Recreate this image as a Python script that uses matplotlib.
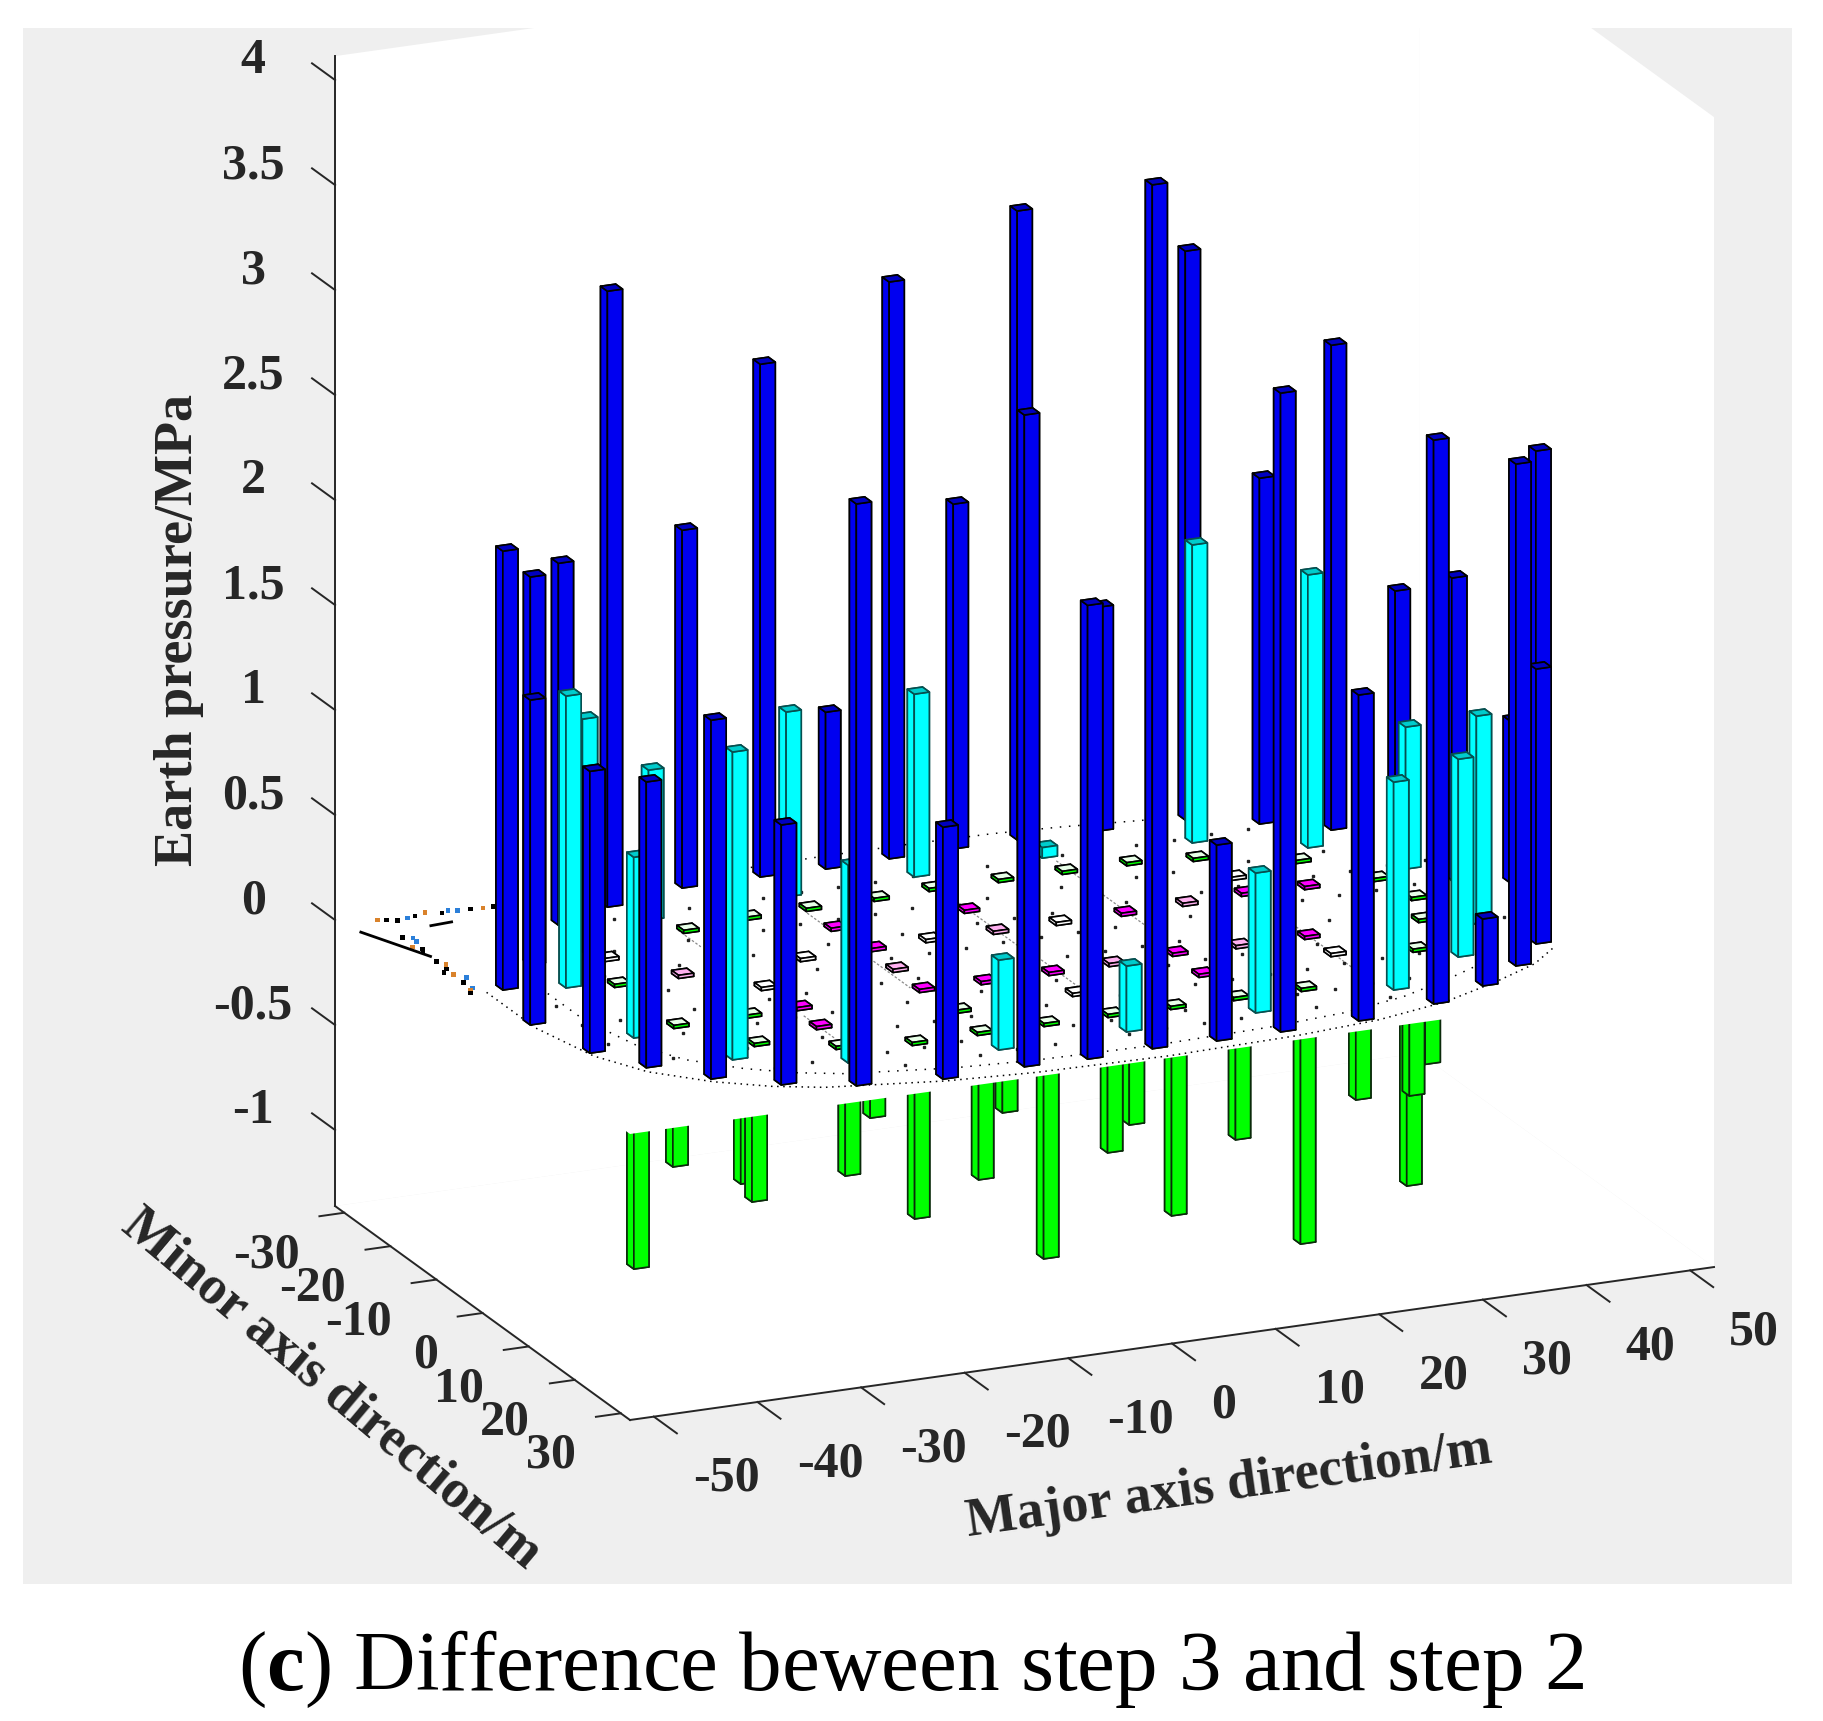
import numpy as np
import matplotlib
matplotlib.use('Agg')
import matplotlib.pyplot as plt
from matplotlib.patches import Rectangle
from mpl_toolkits.mplot3d import proj3d
from mpl_toolkits.mplot3d.art3d import Poly3DCollection

plt.rcParams['font.family'] = ['Liberation Serif', 'DejaVu Serif']
plt.rcParams['mathtext.fontset'] = 'custom'
plt.rcParams['mathtext.bf'] = 'Liberation Serif:bold'

W, H = 1823, 1721

# bars, in fractions of the box: scaled to metres below
blue_x = [-43.8, -45.4, -43.8, -41.0, -37.2, -32.4, -26.9, -19.1, -11.9, -39.0, -32.6, -6.0,
          -26.7, 0.0, -19.3, 6.0, 11.9, -11.7, -6.0, 19.1, 0.1, 27.0, 5.9, 32.3,
          11.8, 37.2, 19.0, 41.1, 26.6, 41.2, 32.3, 45.4, 37.0, 40.9, 46.1]
blue_y = [-8.7, 0.4, 9.0, 14.3, 19.1, 22.8, -24.7, -26.7, -26.7, -13.7, -22.1, -26.4,
          25.5, -26.7, 26.8, -26.9, -26.9, 26.6, 26.9, -26.3, 26.6, -26.0, 26.9, -22.6,
          26.9, -18.8, 26.9, -14.4, 25.4, -3.1, 22.8, -0.5, 19.2, 14.7, 3.2]
blue_z = [2.09, 1.547, 1.342, 1.361, 1.709, 1.238, 2.933, 1.704, 2.442, 1.847, 1.723, 0.747,
          2.771, 2.747, 1.20, 1.642, 2.995, 3.104, 2.161, 1.066, 4.114, 2.709, 0.933, 1.647,
          3.042, 2.309, 1.552, 1.185, 2.685, 1.438, 0.319, 0.771, 2.39, 1.309, 2.114]

cyan_x = [-38.7, -33.6, -25.1, -38.8, -33.5, -12.0, -24.9, 0.0, -11.9, -0.1, 25.1, 11.9,
          33.5, 25.0, 38.8, 33.5, 38.3, 11.9]
cyan_y = [-7.1, -15.0, -20.3, 6.9, 15.3, -21.2, 19.9, -21.6, 21.8, 21.8, -20.4, 21.6,
          -15.4, 20.8, -7.2, 15.2, 8.3, -21.8]
cyan_z = [1.39, 1.109, 0.714, 0.861, 1.466, 0.88, 0.942, 0.871, 0.428, 0.314, 1.419, 0.666,
          1.30, 0.99, 0.676, 0.942, 0.995, 0.05]

green_x = [-45.5, -41.9, -32.6, -34.6, -26.0, -23.7, -19.6, -13.7, -11.5, -7.7, -1.8, 0.2,
           4.1, 10.0, 16.0, 21.1, 25.8, 25.0, 27.5]
green_y = [21.7, 21.7, 15.0, 21.7, 21.7, 21.7, 21.7, 21.7, 21.7, 21.7, 21.7, 21.7,
           21.7, 21.7, 21.7, 21.7, 21.7, 24.0, 21.7]
green_z = [-0.80, -0.34, -0.603, -0.56, -0.499, -0.24, -0.75, -0.607, -0.304, -1.027, -0.565, -0.447,
           -0.908, -0.589, -1.129, -0.48, -0.924, -0.45, -0.357]

# near zero bars in the middle of the plan
tiny_x = [-23.8, -34.9, -29.0, -34.7, -30.4, -17.6, -23.9, -28.0, -33.0, -23.8, -23.3, -18.1,
          -12.0, -5.9, -24.4, -12.0, -12.2, -17.8, -5.7, -11.3, -11.8, -6.1, -11.9, -0.4,
          0.0, 5.9, 0.0, -6.3, -11.3, 11.7, 5.8, -0.1, -0.5, 0.0, 17.6, 11.8,
          5.5, 11.5, 5.7, 23.2, 17.6, 11.3, 24.1, 17.2, 11.5, 23.2, 28.8, 30.9,
          23.5, 23.7, 17.7, 35.0, 35.9, 34.1, 30.5]
tiny_y = [-16.0, -5.6, -5.6, 6.0, 12.9, -17.0, 0.0, 6.0, -12.0, 11.0, 5.9, 17.9,
          17.7, 17.8, 16.3, -17.1, -11.6, -5.5, -17.2, -5.5, 0.1, -5.8, 5.7, -17.7,
          -11.4, -17.5, -5.5, 5.9, 11.8, -17.3, -5.5, 6.0, 11.7, 17.8, -17.2, -5.5,
          5.9, 5.6, 18.0, -16.0, -5.8, 11.4, -10.3, 5.9, 18.0, -6.2, -5.7, -12.1,
          6.0, 10.9, 18.1, -5.3, 0.4, 5.8, 12.6]
tiny_c = ['g', 'g', 'p', 'g', 'g', 'g', 'w', 'g', 'w', 'm', 'm', 'g',
          'g', 'g', 'g', 'g', 'm', 'w', 'g', 'm', 'p', 'w', 'm', 'g',
          'm', 'g', 'p', 'm', 'g', 'g', 'w', 'm', 'w', 'g', 'g', 'm',
          'p', 'm', 'g', 'g', 'p', 'm', 'w', 'p', 'g', 'm', 'm', 'g',
          'm', 'w', 'g', 'g', 'g', 'g', 'g']
tiny_height = 0.015

# rim of the plan, its faint grid pieces and the specks at its corner
rim_x = [-46, -46, -44.5, -42, -38, -34, -30, -20, -12, 0, 12, 20, 27, 33, 38, 41]
rim_y = [-8, 2, 10.5, 16, 20.5, 23.5, 25.5, 28, 29, 29.5, 29, 28, 26, 23, 20, 17]
back_rim_x = [-14, -6, 2, 10, 16, 24]
back_rim_y = [-28.5, -28.8, -28.8, -28.5, -27.8, -26.5]
seg_x = [0.0, -12.8, -12.8, 12.0, 12.0, 0.3, 23.5, -24.0, -24.6]
seg_y0 = [-14, -2.5, -16, -10.5, -20, 2, 2, 8, -16.3]
seg_y1 = [-1, 5, -11.3, 0, -13, 10.3, 15, 14.2, -11.6]
speck_x = [-46.7, -45.2, -44.2, -42.3, -41.0, -39.6, -38.4, -37.3, -36.3, -46.7, -45.9, -46.9,
           -46.6, -46.6, -46.6, -46.7, -46.8, -46.6, -47.3, -46.0, -43.4, -40.3, -46.0, -46.3,
           -46.2, -47.2, -46.0, -47.0]
speck_y = [-28.6, -27.9, -28.1, -28.7, -28.1, -28.1, -28.1, -27.9, -28.0, -23.6, -23.2, -21.1,
           -19.6, -16.8, -14.8, -13.2, -11.0, -9.5, -8.4, -28.3, -28.3, -28.4, -22.2, -20.3,
           -15.8, -14.0, -12.1, -9.0]
speck_c = ['#d9822b', 'k', '#2b7fd9', '#d9822b', 'k', '#2b7fd9', 'k', '#d9822b', 'k', 'k', '#2b7fd9', '#d9822b',
           'k', 'k', 'k', '#d9822b', 'k', '#2b7fd9', 'k', 'k', 'k', '#2b7fd9', '#2b7fd9', 'k',
           '#d9822b', 'k', '#2b7fd9', '#d9822b']

x_ticks = [-50, -40, -30, -20, -10, 0, 10, 20, 30, 40, 50]
y_ticks = [-30, -20, -10, 0, 10, 20, 30]
z_ticks = [-1, -0.5, 0, 0.5, 1, 1.5, 2, 2.5, 3, 3.5, 4]
z_tick_labels = ['-1', '-0.5', '0', '0.5', '1', '1.5', '2', '2.5', '3', '3.5', '4']

xmax, ymax = 52.3, 32.0
zmin, zmax = -1.362, 4.114
x_scale = 1.046
y_scale = 1.0667
bar_w = 1.46
bar_d = 1.49

ink = '#262626'
tick_font = dict(fontsize=36, fontweight='bold', color=ink)

fig = plt.figure(figsize=(W / 100, H / 100), dpi=100, facecolor='white')
back = Rectangle((23 / W, 1 - 1584 / H), (1792 - 23) / W, (1584 - 28) / H,
                 transform=fig.transFigure, facecolor='#efefef', edgecolor='none', zorder=-1)
fig.add_artist(back)

ax = fig.add_axes([0, 0, 1, 1], projection='3d', proj_type='ortho', computed_zorder=False)
ax.set_box_aspect((1185, 731, 1214))
ax.view_init(elev=18.66, azim=-113.8)
ax.set_axis_off()
ax.patch.set_visible(False)
ax.set_xlim(-xmax, xmax)
ax.set_ylim(ymax, -ymax)
ax.set_zlim(zmin, zmax)


def add_face(verts, zorder):
    face = Poly3DCollection([verts], facecolor='white', edgecolor='none', zorder=zorder)
    ax.add_collection3d(face)
    face.set_clip_path(back)


# walls and floor, then the white plan at z = 0
add_face([(-xmax, -ymax, zmin), (xmax, -ymax, zmin), (xmax, -ymax, zmax), (-xmax, -ymax, zmax)], 1)
add_face([(xmax, -ymax, zmin), (xmax, ymax, zmin), (xmax, ymax, zmax), (xmax, -ymax, zmax)], 1)
add_face([(-xmax, -ymax, zmin), (xmax, -ymax, zmin), (xmax, ymax, zmin), (-xmax, ymax, zmin)], 1)
add_face([(-xmax, -ymax, 0), (xmax, -ymax, 0), (xmax, ymax, 0), (-xmax, ymax, 0)], 5)


def draw_bar(x, y, z, colour, edge, zorder, top=None):
    if top is None:
        top = tuple(0.8 * c for c in matplotlib.colors.to_rgb(colour))
    faces = [colour, top, colour, colour, colour, colour]
    ax.bar3d(x - bar_w / 2, y - bar_d / 2, 0, bar_w, bar_d, z, color=faces, edgecolor=edge,
             linewidth=1.2, shade=False, zorder=zorder)


colour_of = {'g': '#00ff00', 'm': '#ff00ff', 'w': '#ffffff', 'p': '#ffb0f0'}
top_of = {'g': '#e8ffe8', 'm': '#ff00ff', 'w': '#ffffff', 'p': '#ffb0f0'}

bars = []
for x, y, z in zip(blue_x, blue_y, blue_z):
    bars.append((x * x_scale, y * y_scale, z, '#0000f0', 'k', None))
for x, y, z in zip(cyan_x, cyan_y, cyan_z):
    bars.append((x * x_scale, y * y_scale, z, '#00ffff', '#064f4f', None))
for x, y, c in zip(tiny_x, tiny_y, tiny_c):
    bars.append((x * x_scale, y * y_scale, tiny_height, colour_of[c], 'k', top_of[c]))

# painter's order along the view direction
az = np.radians(23.8)
bars.sort(key=lambda b: -np.sin(az) * b[0] + np.cos(az) * b[1])
for i, (x, y, z, colour, edge, top) in enumerate(bars):
    draw_bar(x, y, z, colour, edge, 10 + i, top)

greens = sorted(zip(green_x, green_y, green_z), key=lambda b: -np.sin(az) * b[0] + np.cos(az) * b[1])
for i, (x, y, z) in enumerate(greens):
    draw_bar(x * x_scale, y * y_scale, z, '#00ff00', '#0a2a0a', 2 + i / 100)

# dotted rim, sparse mesh dots, grid pieces, corner specks
rim_x = np.array(rim_x) * x_scale
rim_y = np.array(rim_y) * y_scale
for k, ls in [(1.0, (0, (1, 3))), (0.9, (0, (1, 5)))]:
    ax.plot(rim_x * k, rim_y * k, 0, color='k', lw=1.1, ls=ls, zorder=6)
ax.plot(np.array(back_rim_x) * x_scale, np.array(back_rim_y) * y_scale, 0, color='k', lw=1.1, ls=(0, (1, 5)), zorder=6)
for sx, s0, s1 in zip(seg_x, seg_y0, seg_y1):
    ax.plot([sx * x_scale] * 2, [s0 * y_scale, s1 * y_scale], [0, 0], color='#8a8a8a', lw=0.9, ls=(0, (2, 1.5)), zorder=6)
gx, gy = np.meshgrid(np.arange(-44, 46, 3.6), [-22.5, -14.5, -8.5, -2.8, 3, 8.6, 14.5, 20.5, 24.5])
inside = (gx / 50) ** 2 + (gy / 30) ** 2 < 1
ax.plot(gx[inside], gy[inside], 0, ls='none', marker='s', ms=1.6, color='#222222', zorder=6)
ax.scatter(np.array(speck_x) * x_scale, np.array(speck_y) * y_scale, 0, c=speck_c, s=12, marker='s',
           linewidths=0, depthshade=False, zorder=6)
ax.plot([-49.3 * x_scale, -46.5 * x_scale], [-26.3 * y_scale, -18.3 * y_scale], [0, 0], color='k', lw=2, zorder=6)
ax.plot([-43.2 * x_scale, -41.2 * x_scale], [-25.5 * y_scale, -25.7 * y_scale], [0, 0], color='k', lw=2, zorder=6)


def label3d(x, y, z, s, **kw):
    # a plain 2D text at the projected place of a 3D point
    px, py, _ = proj3d.proj_transform(x, y, z, ax.get_proj())
    ax.text2D(px, py, s, transform=ax.transData, **kw)


# axes lines and ticks
axis_kw = dict(color=ink, lw=1.4, zorder=500, clip_on=False)
ax.plot([-xmax, -xmax], [-ymax, -ymax], [zmin, zmax], **axis_kw)
ax.plot([-xmax, -xmax], [-ymax, ymax], [zmin, zmin], **axis_kw)
ax.plot([-xmax, xmax], [ymax, ymax], [zmin, zmin], **axis_kw)
for t in z_ticks:
    ax.plot([-xmax, -xmax], [-ymax, -ymax - 5], [t, t], **axis_kw)
for t in x_ticks:
    ax.plot([t, t], [ymax, ymax + 5], [zmin, zmin], **axis_kw)
    label3d(t, ymax + 8.5, zmin - 0.16, str(t), ha='left', va='center', **tick_font)
for t in y_ticks:
    ax.plot([-xmax, -xmax - 2.4], [t, t], [zmin, zmin], **axis_kw)
    label3d(-xmax - 4.3, t, zmin - 0.173, str(t), ha='right', va='center', **tick_font)
for t, s in zip(z_ticks, z_tick_labels):
    label3d(-xmax - 7.9, -ymax, t + 0.145, s, ha='center', va='center', **tick_font)

# axis titles and caption
label_font = dict(fontsize=39, fontweight='bold', color=ink, ha='center', va='center', rotation_mode='anchor')
fig.text(179 / W, 1 - 630 / H, 'Earth pressure/MPa', rotation=90, **label_font)
fig.text(331 / W, 1 - 1390 / H, 'Minor axis direction/m', rotation=-40, **label_font)
fig.text(1229 / W, 1 - 1486 / H, 'Major axis direction/m', rotation=8, **label_font)
fig.text(911 / W, 1 - 1669 / H, r'($\mathbf{c}$) Difference beween step 3 and step 2', fontsize=61.3,
         color='k', ha='center', va='center')

# put the box on the picture: front corners of the floor at known pixels
M = ax.get_proj()
fx, fy, _ = proj3d.proj_transform(-xmax, ymax, zmin, M)
rx, ry, _ = proj3d.proj_transform(xmax, ymax, zmin, M)
s = (1714 - 630) / (rx - fx)
vl = ax.viewLim
left = 630 - s * (fx - vl.x0)
bottom = (H - 1420) - s * (fy - vl.y0)
ax.set_position([left / W, bottom / H, s * vl.width / W, s * vl.height / H])

fig.savefig('out.png', dpi=100, facecolor='white')
